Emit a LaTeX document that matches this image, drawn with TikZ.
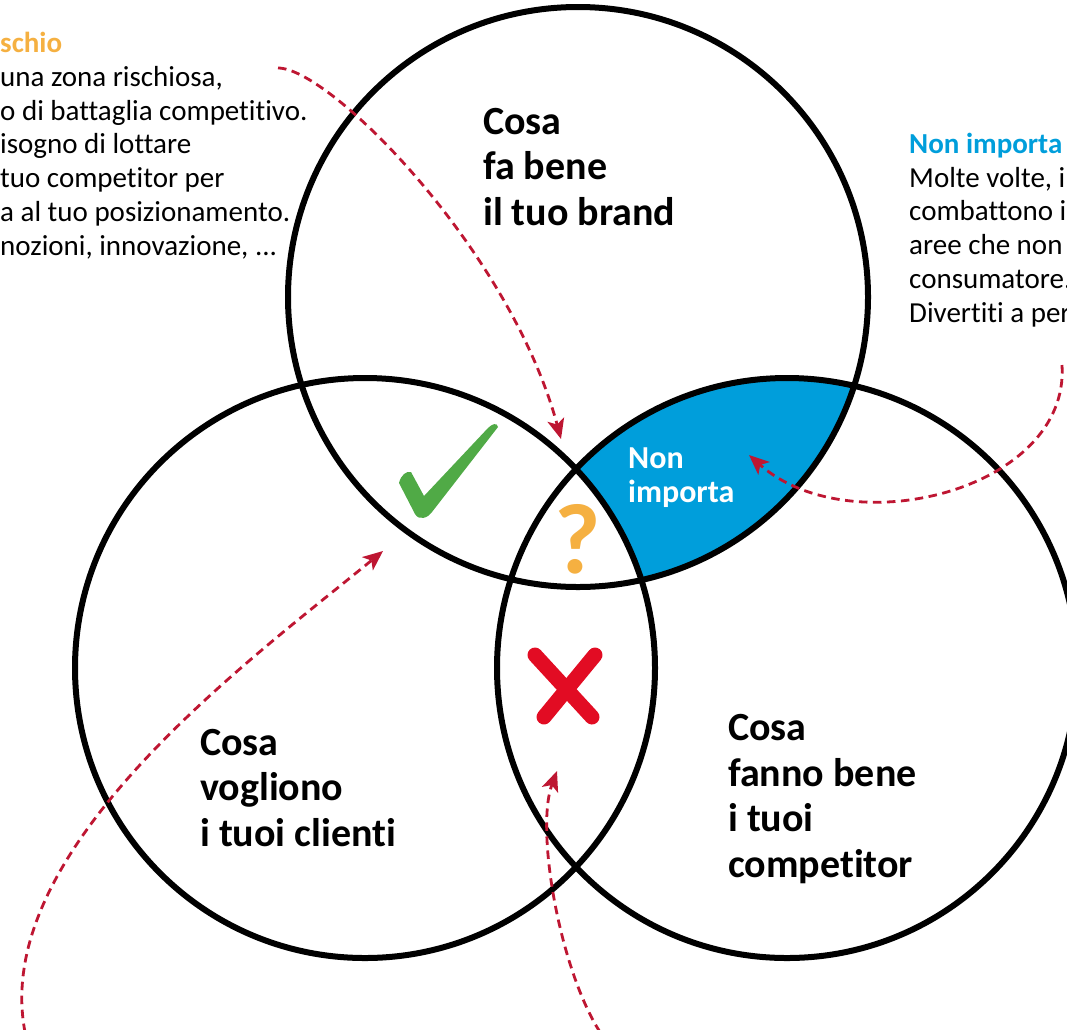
\documentclass[tikz,border=0pt]{standalone}
\usepackage{fontspec}
\setmainfont{Carlito}[Ligatures=NoCommon]
\usetikzlibrary{arrows.meta}

\definecolor{bluNon}{RGB}{0,158,219}
\definecolor{arancio}{RGB}{245,176,65}
\definecolor{verdeOk}{RGB}{80,170,70}
\definecolor{rossoNo}{RGB}{226,12,35}
\definecolor{rossoFr}{RGB}{190,22,50}

\begin{document}
\begin{tikzpicture}[x=1pt, y=-1pt,
  cerchio/.style={line width=6pt},
  freccia/.style={draw=rossoFr, line width=2.8pt, dash pattern=on 8.5pt off 5.5pt,
    -{Stealth[length=20pt, width=17pt, inset=5pt]}},
  titolo/.style={font=\bfseries\fontsize{40}{45.5}\selectfont, align=left,
    anchor=base west, inner sep=0pt},
  testo/.style={font=\fontsize{29}{33.7}\selectfont, align=left,
    anchor=base west, inner sep=0pt}]
\useasboundingbox (0,0) rectangle (1067,1029);
\clip (0,0) rectangle (1067,1029);

% centri dei tre cerchi
\coordinate (cAlto) at (578,297);
\coordinate (cSinistra) at (365,668);
\coordinate (cDestra) at (787,668);

% zona "non importa"
\begin{scope}
\clip (cAlto) circle[radius=290pt];
\clip (cDestra) circle[radius=290pt];
\fill[bluNon] (cAlto) circle[radius=290pt];
\fill[white] (cSinistra) circle[radius=290pt];
\end{scope}

\draw[cerchio] (cAlto) circle[radius=290pt];
\draw[cerchio] (cSinistra) circle[radius=290pt];
\draw[cerchio] (cDestra) circle[radius=290pt];

% etichette dei cerchi (ancorate all'ultima riga)
\node[titolo] (lblBrand) at (483,225) {Cosa\\fa bene\\il tuo brand};
\node[titolo] (lblClienti) at (200,846) {Cosa\\vogliono\\i tuoi clienti};
\node[titolo] (lblCompetitor) at (728,877) {Cosa\\fanno bene\\i tuoi\\competitor};
\node[titolo, font=\bfseries\fontsize{32}{34}\selectfont, text=white] (lblNonImp) at (628,502) {Non\\importa};

% segni
\fill[verdeOk] (399,483) .. controls (401,475) and (406,471) .. (411,472)
  -- (424,496) -- (488,428) .. controls (492,424) and (497,422) .. (498,427)
  -- (432,512) .. controls (428,518) and (419,521) .. (415,514) -- cycle;
\node[font=\bfseries\fontsize{100}{100}\selectfont, text=arancio, inner sep=0pt] (segnoDubbio) at (578,539) {?};
\draw[rossoNo, line width=15pt, line cap=round] (535,655) -- (592,717);
\draw[rossoNo, line width=15pt, line cap=round] (595,655) -- (544,717);

% testi laterali
\node[testo] (txtRischio) at (0,255) {\textcolor{arancio}{\bfseries schio}\\
  una zona rischiosa,\\o di battaglia competitivo.\\isogno di lottare\\
  tuo competitor per\\a al tuo posizionamento.\\nozioni, innovazione, ...};
\node[testo] (txtNonImp) at (909,322) {\textcolor{bluNon}{\bfseries Non importa}\\
  Molte volte, i\\combattono i\\aree che non\\consumatore.\\Divertiti a per};

% frecce
\coordinate (f1a) at (278,68);
\coordinate (f1b) at (561,439);
\coordinate (f2a) at (1062,365);
\coordinate (f2b) at (749,455);
\coordinate (f3a) at (25,1032);
\coordinate (f3b) at (383,551);
\coordinate (f4a) at (600,1032);
\coordinate (f4b) at (557,771);
\draw[freccia] (f1a) .. controls (330,68) and (510,250) .. (f1b);
\draw[freccia] (f2a) .. controls (1070,490) and (850,545) .. (f2b);
\draw[freccia] (f3a) .. controls (-10,850) and (250,660) .. (f3b);
\draw[freccia] (f4a) .. controls (560,970) and (535,830) .. (f4b);
\end{tikzpicture}
\end{document}
